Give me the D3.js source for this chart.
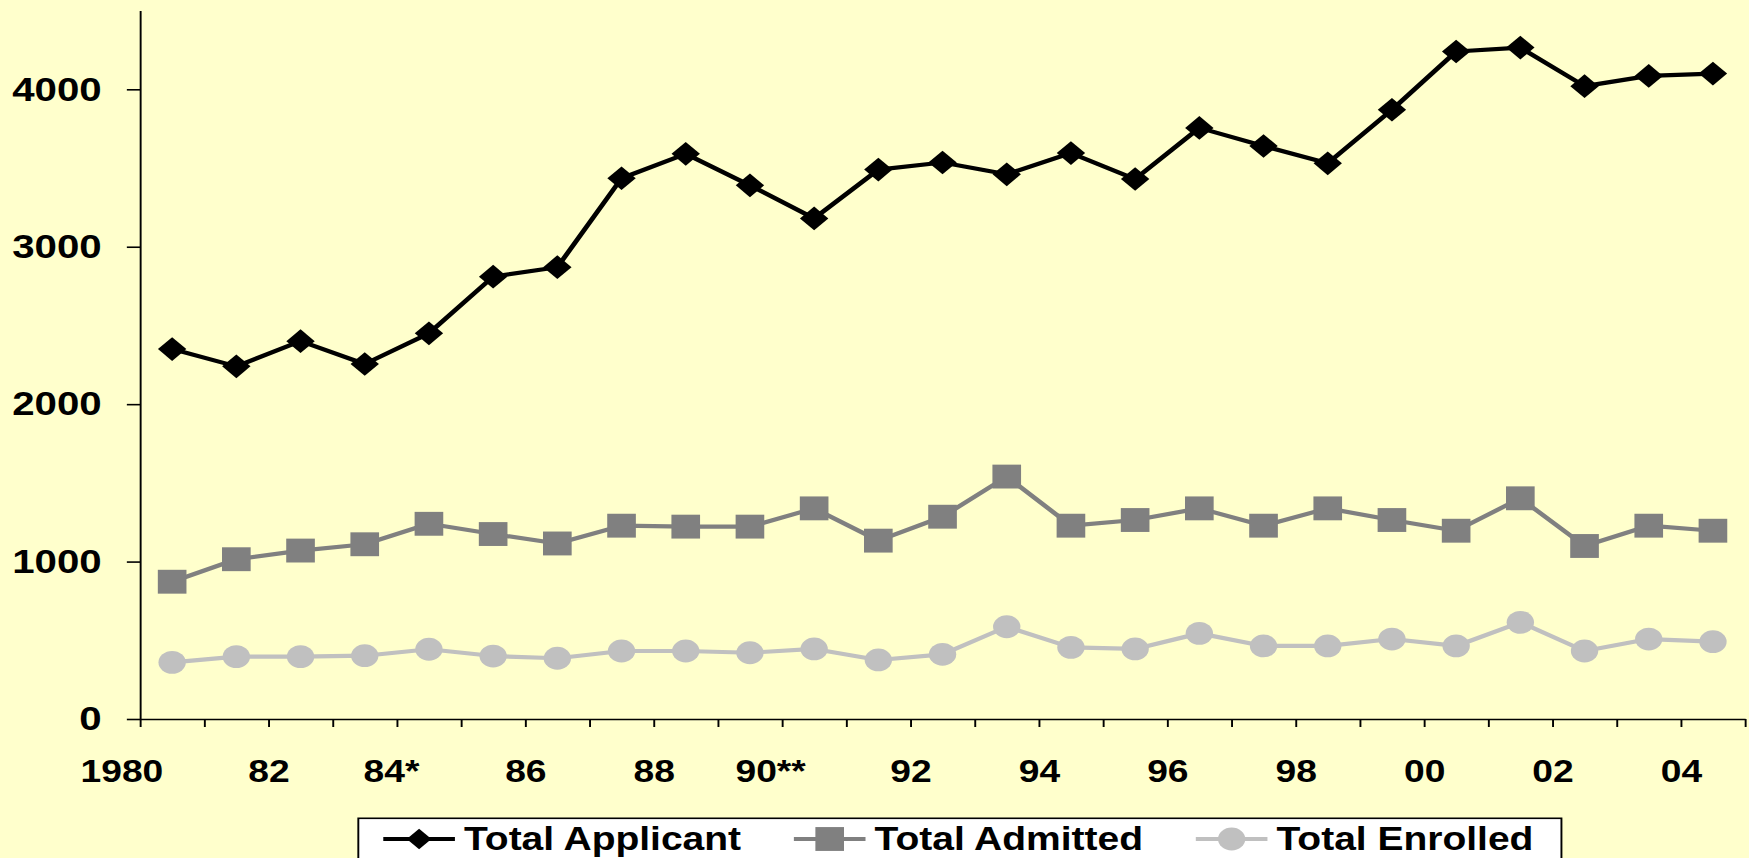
<!DOCTYPE html>
<html>
<head>
<meta charset="utf-8">
<script src="https://cdn.jsdelivr.net/npm/d3@7/dist/d3.min.js"></script>
<style>
  html, body { margin: 0; padding: 0; background: #FFFFCC; overflow: hidden; }
  svg { display: block; font-family: "Liberation Sans", Arial, sans-serif; font-weight: bold; }
</style>
</head>
<body>
<div id="main"></div>
<script>
// chart data
const years = [1980, 1981, 1982, 1983, 1984, 1985, 1986, 1987, 1988, 1989, 1990, 1991, 1992,
  1993, 1994, 1995, 1996, 1997, 1998, 1999, 2000, 2001, 2002, 2003, 2004]
const xLabels = ['1980', '82', '84*', '86', '88', '90**', '92', '94', '96', '98', '00', '02', '04']
const yTicks = [0, 1000, 2000, 3000, 4000]

const applicant = [2350, 2240, 2400, 2255, 2450, 2810, 2870, 3435, 3590, 3390, 3180, 3490, 3535,
  3460, 3595, 3430, 3755, 3640, 3530, 3870, 4240, 4265, 4020, 4085, 4100]
const admitted = [872, 1015, 1070, 1110, 1240, 1175, 1115, 1228, 1222, 1222, 1338, 1133, 1285,
  1540, 1228, 1264, 1338, 1228, 1338, 1264, 1196, 1402, 1099, 1228, 1196]
const enrolled = [360, 396, 396, 402, 443, 400, 386, 432, 432, 421, 445, 375, 411,
  586, 455, 445, 544, 464, 464, 508, 464, 614, 432, 508, 491]

const seriesNames = ['Total Applicant', 'Total Admitted', 'Total Enrolled']

// the original is stretched sideways, so draw in a narrower box and stretch it
const W = 1749, H = 858
const SX = 1.2
const VW = W / SX

const svg = d3.select('#main').append('svg')
  .attr('width', W)
  .attr('height', H)
  .attr('viewBox', `0 0 ${VW} ${H}`)
  .attr('preserveAspectRatio', 'none')

svg.append('rect').attr('width', VW).attr('height', H).attr('fill', '#FFFFCC')

const plotLeft = 116.7, plotRight = 1454.2, plotTop = 10.6, plotBottom = 719

const x = d3.scaleBand().domain(years).range([plotLeft, plotRight])
const xEdge = d3.scaleLinear().domain([0, years.length]).range([plotLeft, plotRight])
const y = d3.scaleLinear().domain([0, 4500]).range([plotBottom, plotTop])

// y axis
const yAxis = svg.append('g')
  .attr('transform', `translate(${plotLeft},0)`)
  .call(d3.axisLeft(y).tickValues(yTicks).tickSize(11).tickSizeOuter(0).tickPadding(21).tickFormat(d3.format('d')))
yAxis.selectAll('path, line').attr('stroke', '#000').attr('stroke-width', 1.6)
yAxis.selectAll('text')
  .attr('fill', '#000')
  .style('font-size', '33.5px')
  .style('font-family', '"Liberation Sans", Arial, sans-serif')

// x axis: ticks sit between categories, labels on every other tick
const labelNudge = { '1980': -15.6, '84*': -5, '90**': -10 }
const xAxis = svg.append('g')
  .attr('transform', `translate(0,${plotBottom})`)
  .call(d3.axisBottom(xEdge)
    .tickValues(d3.range(years.length + 1))
    .tickSize(8)
    .tickSizeOuter(0)
    .tickPadding(33)
    .tickFormat(k => (k % 2 === 0 && xLabels[k / 2]) ? xLabels[k / 2] : ''))
xAxis.selectAll('path, line').attr('stroke', '#000').attr('stroke-width', 1.6)
xAxis.selectAll('text')
  .attr('fill', '#000')
  .attr('dx', d => labelNudge[xLabels[d / 2]] || 0)
  .style('font-size', '31px')
  .style('font-family', '"Liberation Sans", Arial, sans-serif')

const cx = (d, i) => x(years[i]) + x.bandwidth() / 2

const series = [
  { name: seriesNames[0], values: applicant, color: '#000000', marker: 'diamond' },
  { name: seriesNames[1], values: admitted, color: '#808080', marker: 'square' },
  { name: seriesNames[2], values: enrolled, color: '#C0C0C0', marker: 'circle' }
]

const line = d3.line().x(cx).y(d => y(d))

function drawMarker(sel, marker, color, scale) {
  if (marker === 'circle') {
    sel.append('circle').attr('r', 11.4 * scale).attr('fill', color)
  } else if (marker === 'square') {
    sel.append('path').attr('d', d3.symbol(d3.symbolSquare, 570 * scale * scale)()).attr('fill', color)
  } else {
    sel.append('path').attr('d', d3.symbol(d3.symbolSquare, 280 * scale * scale)())
      .attr('transform', 'rotate(45)').attr('fill', color)
  }
}

// draw back to front so black sits on top
series.slice().reverse().forEach(s => {
  const g = svg.append('g')
  g.append('path')
    .attr('d', line(s.values))
    .attr('fill', 'none')
    .attr('stroke', s.color)
    .attr('stroke-width', 4.2)
    .attr('stroke-linejoin', 'round')
  g.selectAll('g.pt')
    .data(s.values)
    .enter().append('g')
    .attr('class', 'pt')
    .attr('transform', (d, i) => `translate(${cx(d, i)},${y(d)})`)
    .each(function () { drawMarker(d3.select(this), s.marker, s.color, 1) })
})

// legend
const legend = svg.append('g')
legend.append('rect')
  .attr('x', 298.6).attr('y', 818.3)
  .attr('width', 1002.6).attr('height', 60)
  .attr('fill', '#FFFFFF').attr('stroke', '#000').attr('stroke-width', 1.6)

let lx = 319.4
const lineLen = 59.7
const ly = 839
series.forEach(s => {
  const item = legend.append('g')
  item.append('line')
    .attr('x1', lx).attr('x2', lx + lineLen)
    .attr('y1', ly).attr('y2', ly)
    .attr('stroke', s.color).attr('stroke-width', 4.2)
  const m = item.append('g').attr('transform', `translate(${lx + lineLen / 2},${ly})`)
  drawMarker(m, s.marker, s.color, s.marker === 'diamond' ? 0.87 : 1)
  const t = item.append('text')
    .attr('x', lx + lineLen + 7.5)
    .attr('y', 850.5)
    .attr('fill', '#000')
    .style('font-size', '32.5px')
    .text(s.name)
  lx = lx + lineLen + 7.5 + t.node().getComputedTextLength() + 44
})
</script>
</body>
</html>
